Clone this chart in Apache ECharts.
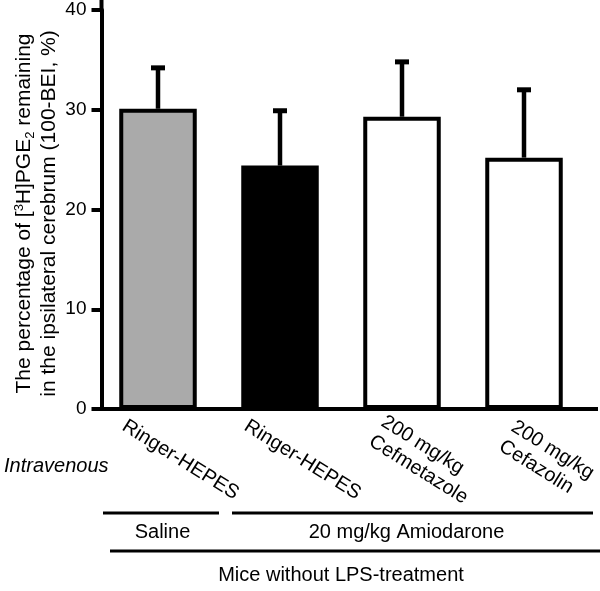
<!DOCTYPE html>
<html>
<head>
<meta charset="utf-8">
<script src="https://cdn.jsdelivr.net/npm/echarts@6/dist/echarts.min.js"></script>
<style>
html,body{margin:0;padding:0;background:#fff;}
#chart{width:600px;height:591px;}
</style>
</head>
<body>
<div id="chart"></div>
<script>
// ---- data ----
const categories = ['Ringer-HEPES', 'Ringer-HEPES', '200 mg/kg\nCefmetazole', '200 mg/kg\nCefazolin'];
const meanValues = [30.1, 24.4, 29.3, 25.2];
const upperValues = [34.2, 29.9, 34.8, 32.0];
const yTicks = [0, 10, 20, 30, 40];

// ---- styles ----
const FONT = '"Liberation Sans", Arial, sans-serif';
const fillColors = ['#aaaaaa', '#000000', '#ffffff', '#ffffff'];

const chart = echarts.init(document.getElementById('chart'), null, {renderer: 'canvas'});

const barData = meanValues.map((v, i) => ({
  value: v,
  itemStyle: {color: fillColors[i], borderColor: '#000', borderWidth: 4}
}));
const errData = meanValues.map((v, i) => [i, v, upperValues[i]]);

const option = {
  backgroundColor: '#fff',
  animation: false,
  grid: {left: 97, right: 15, top: 10, bottom: 182, outerBoundsMode: 'none', containLabel: false},
  xAxis: {
    type: 'category',
    data: categories,
    axisLine: {lineStyle: {color: '#000', width: 4}},
    axisTick: {show: false},
    axisLabel: {
      interval: 0,
      rotate: -32,
      align: 'center',
      verticalAlign: 'middle',
      margin: 51,
      padding: [0, 0, 24, 38],
      color: '#000',
      fontFamily: FONT,
      fontSize: 20,
      formatter: function (v) { return v.split('\n').map(s => '{a|' + s + '}').join('\n'); },
      rich: {a: {align: 'left', fontSize: 20, lineHeight: 23, fontFamily: FONT, color: '#000'}}
    }
  },
  yAxis: {
    type: 'value',
    min: yTicks[0],
    max: yTicks[yTicks.length - 1],
    interval: 10,
    offset: -4.5,
    splitLine: {show: false},
    axisLine: {show: true, lineStyle: {color: '#000', width: 4}},
    axisTick: {show: true, length: 10, lineStyle: {color: '#000', width: 4}},
    axisLabel: {color: '#000', fontFamily: FONT, fontSize: 19, margin: 15},
    name: '{n|The percentage of [}{sup|3}{n|H]PGE}{sub|2}{n| remaining}\n{n|in the ipsilateral cerebrum (100-BEI, %)}',
    nameLocation: 'middle',
    nameGap: 40,
    nameMoveOverlap: false,
    nameTextStyle: {
      color: '#000', fontFamily: FONT, fontSize: 21, lineHeight: 25,
      padding: [0, 8, 0, 0],
      rich: {
        n: {fontSize: 21, lineHeight: 25, fontFamily: FONT, color: '#000'},
        sup: {fontSize: 13, lineHeight: 25, verticalAlign: 'top', fontFamily: FONT, color: '#000', padding: [1, 0, 0, 0]},
        sub: {fontSize: 13, lineHeight: 25, verticalAlign: 'bottom', fontFamily: FONT, color: '#000'}
      }
    }
  },
  series: [
    {
      type: 'bar',
      data: barData,
      barWidth: 77.5,
      z: 2
    },
    {
      type: 'custom',
      z: 3,
      data: errData,
      encode: {x: 0, y: [1, 2]},
      renderItem: function (params, api) {
        const x = api.value(0);
        const p0 = api.coord([x, api.value(1)]);
        const p1 = api.coord([x, api.value(2)]);
        return {
          type: 'group',
          children: [
            {type: 'line', shape: {x1: p0[0], y1: p0[1], x2: p1[0], y2: p1[1]}, style: {stroke: '#000', lineWidth: 4.5}},
            {type: 'line', shape: {x1: p1[0] - 7, y1: p1[1], x2: p1[0] + 7, y2: p1[1]}, style: {stroke: '#000', lineWidth: 5}}
          ]
        };
      }
    }
  ],
  graphic: [
    // axis extensions
    {type: 'line', shape: {x1: 585, y1: 409, x2: 598, y2: 409}, style: {stroke: '#000', lineWidth: 4}},
    {type: 'line', shape: {x1: 101.5, y1: 0, x2: 101.5, y2: 11}, style: {stroke: '#000', lineWidth: 4}},
    // annotations
    {type: 'text', x: 4, y: 466, style: {text: 'Intravenous', font: 'italic 20px ' + FONT, fill: '#000', textAlign: 'left', textVerticalAlign: 'middle'}},
    {type: 'line', shape: {x1: 103, y1: 513, x2: 219, y2: 513}, style: {stroke: '#000', lineWidth: 3}},
    {type: 'line', shape: {x1: 232, y1: 513, x2: 593, y2: 513}, style: {stroke: '#000', lineWidth: 3}},
    {type: 'text', x: 162.5, y: 532, style: {text: 'Saline', font: '20px ' + FONT, fill: '#000', textAlign: 'center', textVerticalAlign: 'middle'}},
    {type: 'text', x: 406.5, y: 532, style: {text: '20 mg/kg Amiodarone', font: '20px ' + FONT, fill: '#000', textAlign: 'center', textVerticalAlign: 'middle'}},
    {type: 'line', shape: {x1: 110, y1: 551, x2: 600, y2: 551}, style: {stroke: '#000', lineWidth: 3}},
    {type: 'text', x: 341, y: 575, style: {text: 'Mice without LPS-treatment', font: '20px ' + FONT, fill: '#000', textAlign: 'center', textVerticalAlign: 'middle'}}
  ]
};
chart.setOption(option);
</script>
</body>
</html>
